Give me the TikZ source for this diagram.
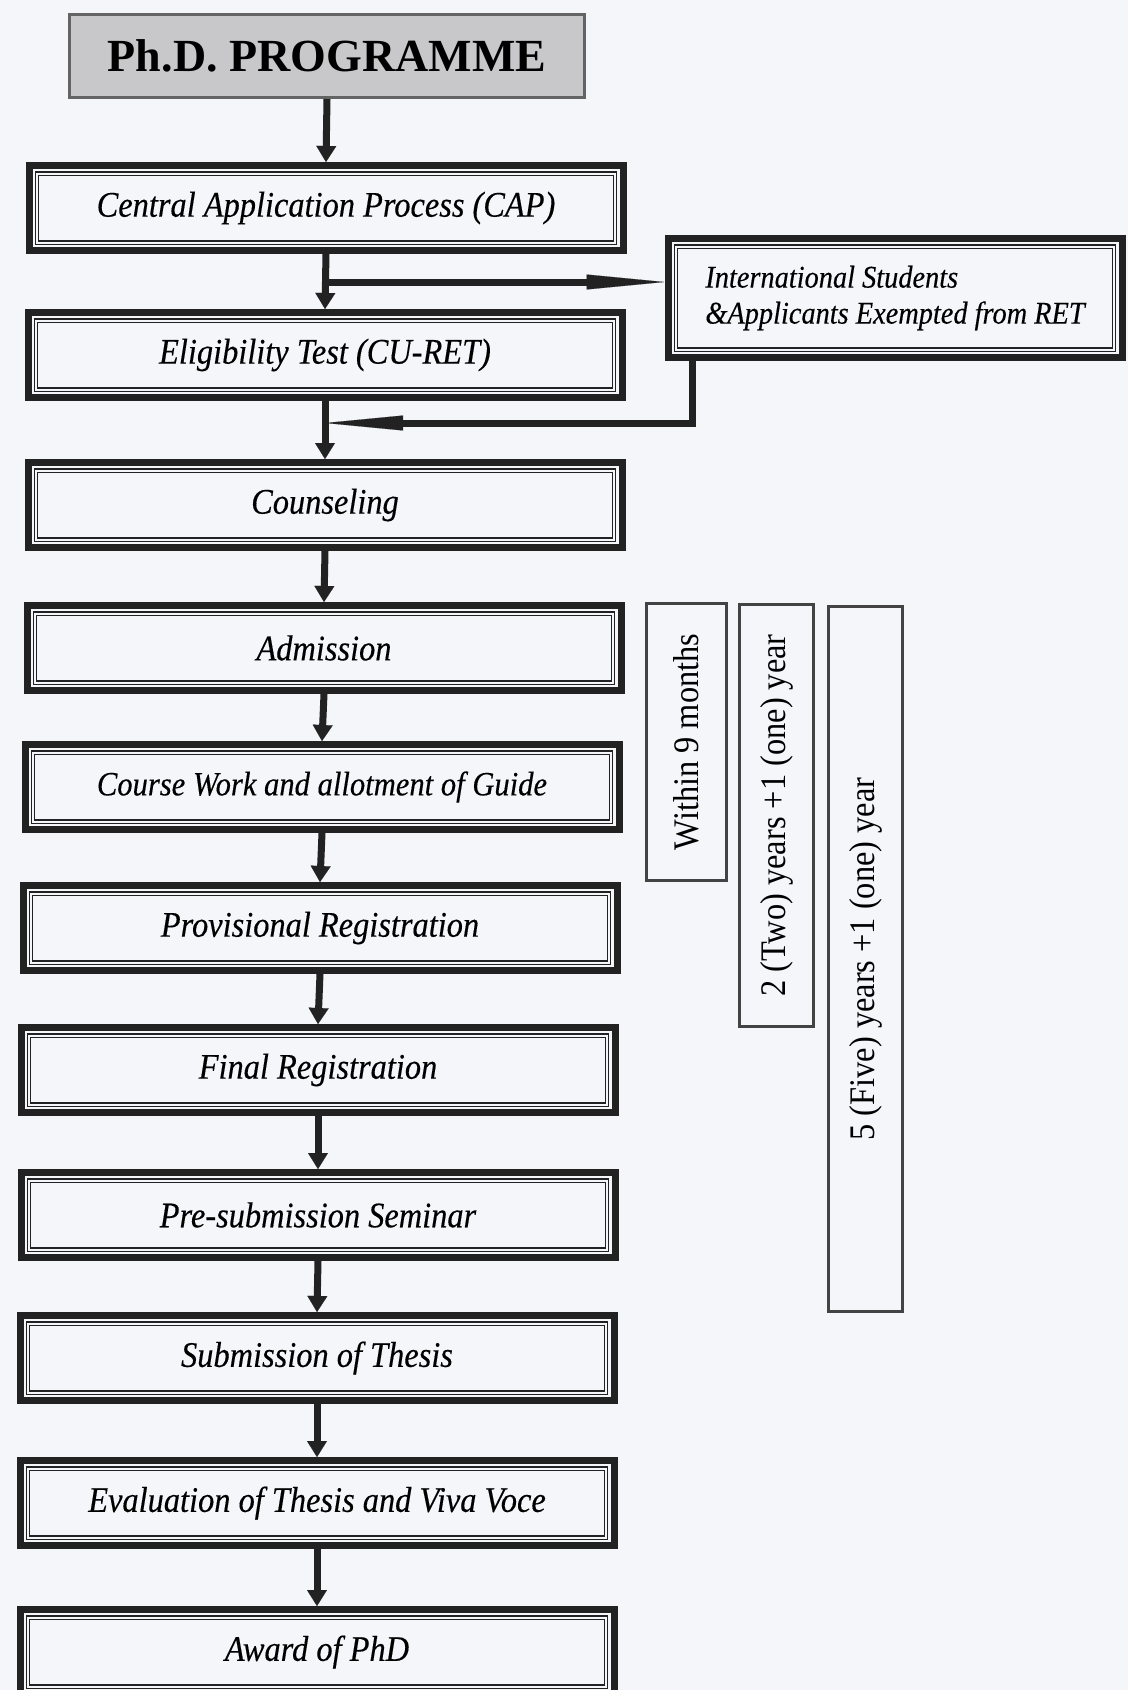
\documentclass[tikz,border=0pt]{standalone}
\usepackage{fontspec}
\setmainfont{Liberation Serif}
\newfontfamily\durfont[FakeStretch=0.9]{Liberation Serif}
\newfontfamily\stepfont[FakeStretch=0.9,FakeBold=0.3]{Liberation Serif}
\usepackage{tikz}
\usetikzlibrary{shapes,arrows,arrows.meta}
\definecolor{paper}{RGB}{244,246,250}
\definecolor{ink}{RGB}{34,34,34}
\definecolor{titlegray}{RGB}{200,200,202}

\begin{document}
\begin{tikzpicture}[x=1pt,y=-1pt]
	\tikzstyle{stepbox}=[draw=ink, line width=7pt, minimum width=594pt, minimum height=85pt, inner sep=0pt, font=\fontsize{36}{40}\selectfont\stepfont\itshape]
	\tikzstyle{innerframe}=[draw=ink, double=paper, double distance=2pt, line width=1.2pt]
	\tikzstyle{flow}=[draw=ink, line width=7pt, -{Triangle[width=20pt,length=16pt,line width=0.1pt]}]
	\tikzstyle{spear}=[draw=ink, line width=7pt, -{Triangle[width=15pt,length=78pt,line width=0.1pt]}]
	\tikzstyle{durbox}=[draw=ink!85, line width=3pt, rotate=90, inner sep=0pt, font=\fontsize{36}{40}\selectfont\durfont]

	%%Ph.D. flow chart, 1 unit = 1 pixel of the page
	\useasboundingbox (0,0) rectangle (1128,1690);
	\fill [paper] (0,0) rectangle (1128,1690);

	\node [draw=ink!70, line width=3pt, fill=titlegray, minimum width=515pt, minimum height=83pt, font=\fontsize{46}{50}\selectfont\bfseries] (title) at (327,56) {Ph.D. PROGRAMME};

	\node [stepbox] (cap) at (326,208) {Central Application Process (CAP)};
	\node [stepbox] (elig) at (325,355) {Eligibility Test (CU-RET)};
	\node [stepbox] (couns) at (325,505) {Counseling};
	\node [stepbox] (adm) at (324,648) {Admission};
	\node [stepbox, font=\fontsize{34}{38}\selectfont\stepfont\itshape] (course) at (322,787) {Course Work and allotment of Guide};
	\node [stepbox] (prov) at (320,928) {Provisional Registration};
	\node [stepbox] (final) at (318,1070) {Final Registration};
	\node [stepbox] (pre) at (318,1215) {Pre-submission Seminar};
	\node [stepbox] (sub) at (317,1358) {Submission of Thesis};
	\node [stepbox] (eval) at (317,1503) {Evaluation of Thesis and Viva Voce};
	\node [stepbox] (award) at (317,1652) {Award of PhD};

	\node [stepbox, minimum width=454pt, minimum height=119pt, align=left, font=\fontsize{31.5}{36}\selectfont\stepfont\itshape] (intl) at (895,298) {International Students\\\&Applicants Exempted from RET};

	\foreach \n in {cap,elig,couns,adm,course,prov,final,pre,sub,eval,award,intl}
		\draw [innerframe] ([shift={(11.5,11.5)}]\n.north west) rectangle ([shift={(-11.5,-11.5)}]\n.south east);

	\draw [flow] (title.south) -- (cap.north);
	\draw [flow] (cap.south) -- (elig.north);
	\draw [flow] (elig.south) -- (couns.north);
	\draw [flow] (couns.south) -- (adm.north);
	\draw [flow] (adm.south) -- (course.north);
	\draw [flow] (course.south) -- (prov.north);
	\draw [flow] (prov.south) -- (final.north);
	\draw [flow] (final.south) -- (pre.north);
	\draw [flow] (pre.south) -- (sub.north);
	\draw [flow] (sub.south) -- (eval.north);
	\draw [flow] (eval.south) -- (award.north);

	\coordinate (split) at (326,282);
	\coordinate (merge) at (325,423);
	\draw [spear] (split) -- (split -| intl.west);
	\draw [spear] ([xshift=28pt]intl.south west) |- (merge);

	\node [durbox, minimum width=277pt, minimum height=80pt] (nine) at (686.5,742) {Within 9 months};
	\node [durbox, minimum width=422pt, minimum height=74pt] (two) at (776.5,815.5) {2 (Two) years +1 (one) year};
	\node [durbox, minimum width=705pt, minimum height=74pt] (five) at (865.5,959) {5 (Five) years +1 (one) year};

\end{tikzpicture}
\end{document}
